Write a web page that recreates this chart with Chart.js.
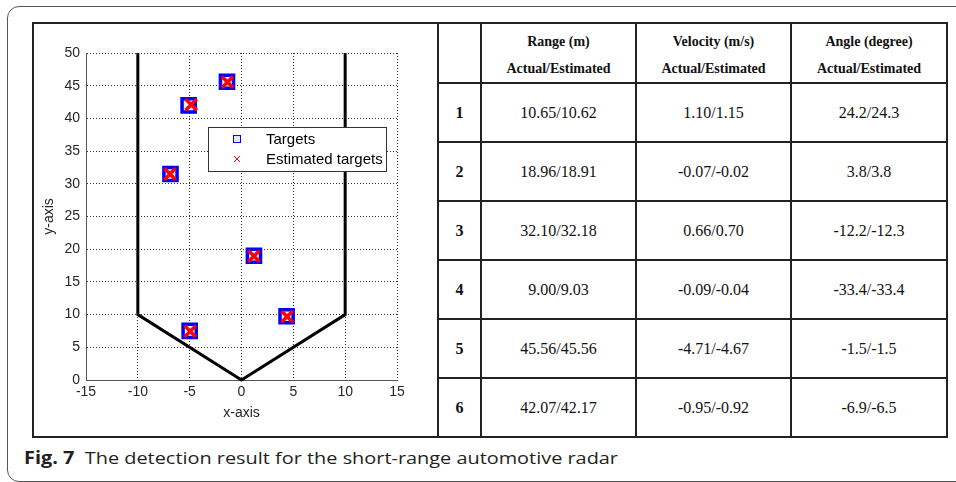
<!DOCTYPE html>
<html>
<head>
<meta charset="utf-8">
<script src="https://cdn.jsdelivr.net/npm/chart.js@4.4.1/dist/chart.umd.min.js"></script>
<style>
  html, body { margin: 0; padding: 0; background: #fff; width: 956px; height: 482px; overflow: hidden; }
  #frame { position: absolute; left: 7px; top: 6px; width: 1000px; height: 476px; border: 1px solid #555; border-radius: 12px; box-sizing: border-box; }
  #panel { position: absolute; left: 32px; top: 22px; width: 407px; height: 416px; border: 2px solid #222; border-right: none; box-sizing: border-box; background: #fff; }
  #chartCanvas { position: absolute; left: 34px; top: 24px; }
  table { position: absolute; left: 437px; top: 22px; width: 509px; height: 416px; border-collapse: collapse; table-layout: fixed; font-family: "Liberation Serif", "Times New Roman", serif; color: #111; }
  td, th { border: 2px solid #222; text-align: center; vertical-align: middle; padding: 0; }
  th { font-size: 14px; font-weight: bold; line-height: 27px; padding-top: 4px; }
  td { font-size: 16px; }
  td.id { font-weight: bold; }
  #caption { position: absolute; left: 24px; top: 446px; font-family: "Open Sans", sans-serif; font-size: 17px; line-height: 24px; color: #231f20; white-space: nowrap; transform-origin: left center; }
  #caption b { font-weight: bold; }
</style>
</head>
<body>
<div id="frame"></div>
<div id="panel"></div>
<canvas id="chartCanvas" width="402" height="411"></canvas>
<table id="tbl"></table>
<div id="caption"><b>Fig. 7</b>&nbsp; The detection result for the short-range automotive radar</div>
<script>
// ---- data ----
const xTickMin = -15, xTickMax = 15, xTickStep = 5;
const yTickMin = 0, yTickMax = 50, yTickStep = 5;
const boundaryX = [-10, -10, 0, 10, 10];
const boundaryY = [50, 10, 0, 10, 50];
const targetX = [4.35, 1.2, -6.85, -5.0, -1.4, -5.1];
const targetY = [9.75, 19.0, 31.5, 7.5, 45.6, 42.0];
const estimatedX = [4.4, 1.2, -6.9, -4.95, -1.35, -4.85];
const estimatedY = [9.7, 18.95, 31.5, 7.45, 45.55, 42.1];
const seriesNames = ['Targets', 'Estimated targets'];
const xTitle = 'x-axis';
const yTitle = 'y-axis';

const tableHeaders = [['', ''], ['Range (m)', 'Actual/Estimated'], ['Velocity (m/s)', 'Actual/Estimated'], ['Angle (degree)', 'Actual/Estimated']];
const rowIds = ['1', '2', '3', '4', '5', '6'];
const rangeVals = ['10.65/10.62', '18.96/18.91', '32.10/32.18', '9.00/9.03', '45.56/45.56', '42.07/42.17'];
const velocityVals = ['1.10/1.15', '-0.07/-0.02', '0.66/0.70', '-0.09/-0.04', '-4.71/-4.67', '-0.95/-0.92'];
const angleVals = ['24.2/24.3', '3.8/3.8', '-12.2/-12.3', '-33.4/-33.4', '-1.5/-1.5', '-6.9/-6.5'];

// ---- table ----
(function buildTable() {
  const tbl = document.getElementById('tbl');
  const colW = [43, 155, 155, 156];
  let html = '<colgroup>' + colW.map(w => `<col style="width:${w}px">`).join('') + '</colgroup>';
  html += '<tr style="height:60px">' + tableHeaders.map(h => `<th>${h[0] ? h[0] + '<br>' + h[1] : ''}</th>`).join('') + '</tr>';
  rowIds.forEach((id, i) => {
    html += `<tr style="height:59px"><td class="id">${id}</td><td>${rangeVals[i]}</td><td>${velocityVals[i]}</td><td>${angleVals[i]}</td></tr>`;
  });
  tbl.innerHTML = html;
})();

// ---- caption fit ----
(function fitCaption() {
  const c = document.getElementById('caption');
  const w = c.getBoundingClientRect().width;
  c.style.transform = `scaleX(${594 / w})`;
})();

// ---- legend plugin ----
const boxLegend = {
  id: 'boxLegend',
  afterDraw(chart) {
    const ctx = chart.ctx;
    const x0 = 174, y0 = 103, w = 178, h = 44;
    ctx.save();
    ctx.fillStyle = '#fff';
    ctx.fillRect(x0, y0, w, h);
    ctx.strokeStyle = '#333';
    ctx.lineWidth = 1;
    ctx.strokeRect(x0 + 0.5, y0 + 0.5, w, h);
    ctx.fillStyle = '#e6e6f0';
    ctx.fillRect(199.5, 111.5, 7, 7);
    ctx.strokeStyle = '#0000ff';
    ctx.lineWidth = 1;
    ctx.strokeRect(199.5, 111.5, 7, 7);
    ctx.strokeStyle = '#ff0000';
    ctx.beginPath();
    ctx.moveTo(200, 132); ctx.lineTo(206, 138);
    ctx.moveTo(206, 132); ctx.lineTo(200, 138);
    ctx.stroke();
    ctx.fillStyle = '#000';
    ctx.font = '15px "Liberation Sans", Arial, sans-serif';
    ctx.textBaseline = 'middle';
    ctx.textAlign = 'left';
    ctx.fillText(seriesNames[0], 232, 115.5);
    ctx.fillText(seriesNames[1], 232, 135.5);
    ctx.restore();
  }
};

const toPts = (xs, ys) => xs.map((x, i) => ({ x: x, y: ys[i] }));

new Chart(document.getElementById('chartCanvas'), {
  type: 'scatter',
  data: {
    datasets: [
      {
        label: 'boundary', type: 'line', data: toPts(boundaryX, boundaryY),
        borderColor: '#000', borderWidth: 3, pointRadius: 0, fill: false, tension: 0, order: 3, clip: false
      },
      {
        label: seriesNames[0], data: toPts(targetX, targetY),
        pointStyle: 'rect', pointRadius: 9.3, borderWidth: 3.5, borderColor: '#0000ff', backgroundColor: '#ececf2', order: 2
      },
      {
        label: seriesNames[1], data: toPts(estimatedX, estimatedY),
        pointStyle: 'crossRot', pointRadius: 8, borderWidth: 3.5, borderColor: '#ff0000', backgroundColor: '#ff0000', order: 1
      }
    ]
  },
  options: {
    responsive: false,
    animation: false,
    devicePixelRatio: 1,
    layout: { padding: { left: 0, top: 29, right: 39, bottom: 0 } },
    plugins: { legend: { display: false }, tooltip: { enabled: false } },
    scales: {
      x: {
        type: 'linear', min: xTickMin, max: xTickMax,
        afterFit: s => { s.height = 55; },
        ticks: { stepSize: xTickStep, autoSkip: false, maxRotation: 0, padding: 4, color: '#262626', font: { family: '"Liberation Sans", Arial, sans-serif', size: 14 } },
        grid: { color: '#333', lineWidth: 1, drawTicks: false },
        border: { display: true, color: '#555', width: 1, dash: [1, 2] },
        title: { display: true, text: xTitle, color: '#262626', font: { family: '"Liberation Sans", Arial, sans-serif', size: 14 }, padding: { top: 0, bottom: 13 } }
      },
      y: {
        type: 'linear', min: yTickMin, max: yTickMax,
        afterFit: s => { s.width = 52; },
        ticks: { stepSize: yTickStep, autoSkip: false, padding: 6, color: '#262626', font: { family: '"Liberation Sans", Arial, sans-serif', size: 14 } },
        grid: { color: '#333', lineWidth: 1, drawTicks: false },
        border: { display: true, color: '#555', width: 1, dash: [1, 2] },
        title: { display: true, text: yTitle, color: '#262626', font: { family: '"Liberation Sans", Arial, sans-serif', size: 14 }, padding: { top: 7, bottom: 0 } }
      }
    }
  },
  plugins: [boxLegend]
});
</script>
</body>
</html>
